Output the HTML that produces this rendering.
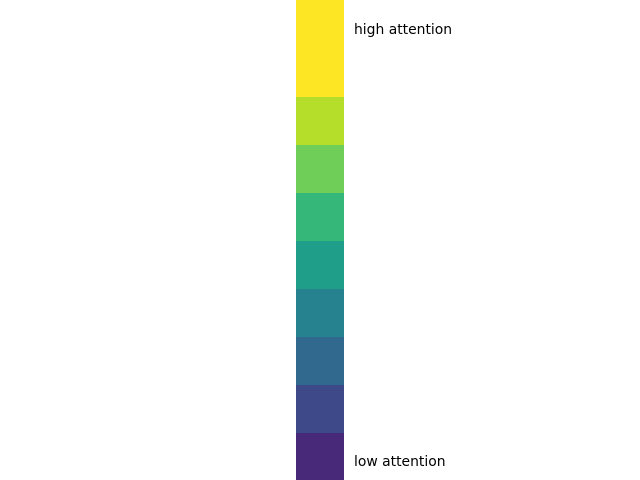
<!DOCTYPE html>
<html><head><meta charset="utf-8"><style>
html,body{margin:0;padding:0;background:#fff;width:640px;height:480px;overflow:hidden}
svg text{font-family:"DejaVu Sans","Liberation Sans",sans-serif;font-size:13.9px;fill:#000}
</style></head><body>
<svg id="chart" width="640" height="480" viewBox="0 0 640 480" xmlns="http://www.w3.org/2000/svg">
<g id="cells"></g>
<text x="354" y="34">high attention</text>
<text x="354" y="466">low attention</text>
</svg>
<script>
const cellValues = [8, 8, 7, 6, 5, 4, 3, 2, 1, 0];
const levelColors = ["#482878", "#3e4989", "#31688e", "#26828e", "#1f9e89", "#35b779", "#6ece58", "#b5de2b", "#fde725"];
const x0 = 296, cellW = 48, rowH = 48, yOff = 1;
function yPos(i){ return i === 0 ? 0 : yOff + i * rowH; }
const g = document.getElementById('cells');
for (let i = 0; i < cellValues.length; i++) {
  const r = document.createElementNS('http://www.w3.org/2000/svg', 'rect');
  const y = yPos(i);
  const yEnd = i === cellValues.length - 1 ? 480 : yPos(i + 1);
  r.setAttribute('x', x0);
  r.setAttribute('y', y);
  r.setAttribute('width', cellW);
  r.setAttribute('height', yEnd - y);
  r.setAttribute('fill', levelColors[cellValues[i]]);
  
  
  g.appendChild(r);
}
</script>
</body></html>
